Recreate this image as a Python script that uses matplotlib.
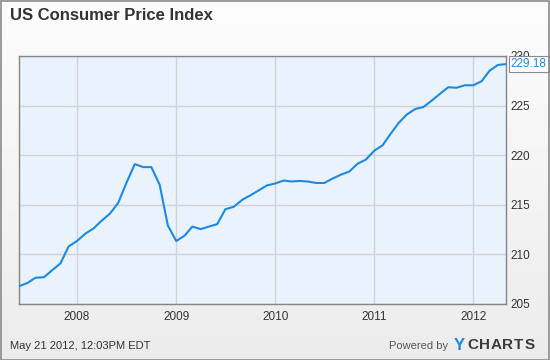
import matplotlib
matplotlib.use("Agg")
import matplotlib.pyplot as plt
import matplotlib.dates as mdates
import numpy as np
import pandas as pd

# monthly CPI, May 2007 .. Apr 2012 (plotted at the start of the following month)
months = pd.date_range("2007-06-01", periods=60, freq="MS")
cpi_2007 = [206.8, 207.1, 207.65, 207.7, 208.4, 209.1, 210.8, 211.35]
cpi_2008 = [212.1, 212.6, 213.4, 214.1, 215.2, 217.2, 219.1, 218.8, 218.8, 217.0, 212.9, 211.35]
cpi_2009 = [211.9, 212.8, 212.55, 212.8, 213.05, 214.55, 214.8, 215.5, 215.95, 216.45, 216.95, 217.15]
cpi_2010 = [217.45, 217.35, 217.4, 217.35, 217.2, 217.2, 217.65, 218.05, 218.35, 219.15, 219.55, 220.45]
cpi_2011 = [221.0, 222.1, 223.25, 224.1, 224.65, 224.85, 225.5, 226.2, 226.85, 226.8, 227.05, 227.05]
cpi_2012 = [227.45, 228.5, 229.1, 229.18]
cpi = cpi_2007 + cpi_2008 + cpi_2009 + cpi_2010 + cpi_2011 + cpi_2012

y_ticks = [205, 210, 215, 220, 225, 230]
x_years = [2008, 2009, 2010, 2011, 2012]
last_label = "229.18"

plt.rcParams["font.family"] = ["Liberation Sans", "DejaVu Sans"]

blue = "#1a8ae6"
text_col = "#333333"

fig = plt.figure(figsize=(5.5, 3.6), dpi=100)

# background gradient
bg = fig.add_axes([0, 0, 1, 1], zorder=-10)
grad = np.linspace(0, 1, 256).reshape(-1, 1)
bg.imshow(grad, aspect="auto", cmap=matplotlib.colors.LinearSegmentedColormap.from_list(
    "g", ["#fdfdfd", "#ececec"]), extent=[0, 1, 0, 1])
bg.axis("off")
fig.patches.append(plt.Rectangle((0.001, 0.001), 0.997, 0.996, transform=fig.transFigure,
                                 fill=False, edgecolor="#8a8a8a", lw=1.2))

ax = fig.add_axes([19 / 550, 1 - 304 / 360, (506 - 19) / 550, (304 - 56) / 360])
ax.set_facecolor("#eaf2fe")
ax.plot(months, cpi, color=blue, lw=1.5, zorder=3)

ax.set_xlim(pd.Timestamp("2007-06-01"), pd.Timestamp("2012-05-01"))
ax.set_ylim(205, 230)
ax.set_yticks(y_ticks)
ax.set_xticks([pd.Timestamp(f"{y}-01-01") for y in x_years])
ax.xaxis.set_major_formatter(mdates.DateFormatter("%Y"))
ax.yaxis.tick_right()
ax.tick_params(length=0, labelsize=8.5, colors=text_col, pad=5)
ax.tick_params(axis="y", pad=3)
ax.grid(True, color="#d3d3d3", lw=1)
ax.set_axisbelow(True)
for s in ax.spines.values():
    s.set_color("#858585")
    s.set_linewidth(1)

ax.annotate(last_label, xy=(months[-1], cpi[-1]), xytext=(3.5, 0), textcoords="offset points",
            ha="left", va="center", fontsize=8.5, color=blue, zorder=5,
            bbox=dict(boxstyle="square,pad=0.18", fc="white", ec="#8a8a8a", lw=0.8),
            annotation_clip=False)

fig.text(10 / 550, 1 - 15 / 360, "US Consumer Price Index", fontsize=12, fontweight="bold",
         color=text_col, ha="left", va="center")
fig.text(10 / 550, 1 - 346 / 360, "May 21 2012, 12:03PM EDT", fontsize=8, color=text_col,
         ha="left", va="center")
fig.text(448 / 550, 1 - 346 / 360, "Powered by", fontsize=8, color="#555555",
         ha="right", va="center")
fig.text(454 / 550, 1 - 345 / 360, "Y", fontsize=12, fontweight="bold", color=blue,
         ha="left", va="center")
for i, ch in enumerate("CHARTS"):
    fig.text((467 + i * 11.6) / 550, 1 - 345 / 360, ch, fontsize=11, fontweight="bold",
             color="#3a3a3a", ha="left", va="center")

fig.savefig("out.png", dpi=100)
